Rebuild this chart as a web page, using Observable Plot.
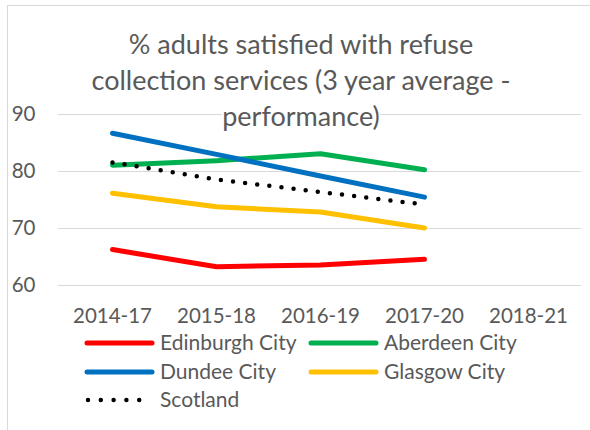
<!DOCTYPE html>
<html>
<head>
<meta charset="utf-8">
<script src="https://cdn.jsdelivr.net/npm/d3@7"></script>
<script src="https://cdn.jsdelivr.net/npm/@observablehq/plot@0.6"></script>
<style>
  html, body { margin: 0; padding: 0; background: white; }
  #wrap { position: relative; width: 590px; height: 430px; overflow: hidden; font-family: Lato, sans-serif; color: #595959; }
  #chart { position: absolute; left: 0; top: 0; }
  #title { position: absolute; left: 1px; width: 600px; top: 26px; text-align: center; font-size: 27px; line-height: 36px; }
  #title span { background: white; }
  #legend { position: absolute; left: 0; top: 0; }
  #border { position: absolute; left: 7px; top: 5px; width: 700px; height: 600px; border: 1px solid #d9d9d9; pointer-events: none; }
</style>
</head>
<body>
<div id="wrap">
  <div id="chart"></div>
  <div id="title"></div>
  <svg id="legend" width="590" height="430"></svg>
  <div id="border"></div>
</div>
<script>
const categories = ["2014-17", "2015-18", "2016-19", "2017-20", "2018-21"];
const edinburgh = [66.3, 63.3, 63.6, 64.6];
const aberdeen  = [81.1, 81.9, 83.1, 80.3];
const dundee    = [86.7, 83.0, 79.2, 75.5];
const glasgow   = [76.2, 73.8, 72.9, 70.1];
const scotland  = [81.6, 78.6, 76.4, 74.2];
const yTicks = [60, 70, 80, 90];
const titleLines = ["% adults satisfied with refuse", "collection services (3 year average -", "performance)"];

const series = [
  {name: "Edinburgh City", values: edinburgh, color: "#FF0000", dotted: false},
  {name: "Aberdeen City",  values: aberdeen,  color: "#00B050", dotted: false},
  {name: "Dundee City",    values: dundee,    color: "#0070C0", dotted: false},
  {name: "Glasgow City",   values: glasgow,   color: "#FFC000", dotted: false},
  {name: "Scotland",       values: scotland,  color: "#000000", dotted: true}
];

const rows = series.map(s => s.values.map((v, i) => ({series: s.name, cat: categories[i], value: v})));

const marks = [
  Plot.ruleY(yTicks, {stroke: "#d9d9d9", strokeWidth: 1})
];
series.forEach((s, k) => {
  if (s.dotted) {
    marks.push(Plot.line(rows[k], {x: "cat", y: "value", stroke: s.color, strokeWidth: 4.5,
      strokeLinecap: "round", strokeDasharray: "0 12.2"}));
  } else {
    marks.push(Plot.line(rows[k], {x: "cat", y: "value", stroke: s.color, strokeWidth: 5,
      strokeLinecap: "round", strokeLinejoin: "round"}));
  }
});

const chart = Plot.plot({
  width: 590, height: 430,
  marginLeft: 58, marginRight: 9, marginTop: 114, marginBottom: 145,
  x: {type: "point", domain: categories, padding: 0.5, tickSize: 0, tickPadding: 23, label: null},
  y: {domain: [60, 90], ticks: yTicks, tickSize: 0, tickPadding: 23, label: null},
  style: {fontFamily: "Lato, sans-serif", fontSize: "20.5px", color: "#595959", background: "white"},
  marks
});
document.getElementById("chart").appendChild(chart);

// title
const t = d3.select("#title");
titleLines.forEach((line, i) => {
  t.append("span").text(line);
  if (i < titleLines.length - 1) t.append("br");
});

// legend
const lg = d3.select("#legend");
const legendPos = [
  {x: 85, y: 343}, {x: 309, y: 343},
  {x: 85, y: 372}, {x: 309, y: 372},
  {x: 85, y: 400}
];
series.forEach((s, i) => {
  const p = legendPos[i];
  const g = lg.append("g");
  if (s.dotted) {
    g.append("line").attr("x1", p.x + 3).attr("x2", p.x + 67).attr("y1", p.y).attr("y2", p.y)
      .attr("stroke", s.color).attr("stroke-width", 4.5).attr("stroke-linecap", "round")
      .attr("stroke-dasharray", "0 12.8");
  } else {
    g.append("line").attr("x1", p.x + 2).attr("x2", p.x + 67).attr("y1", p.y).attr("y2", p.y)
      .attr("stroke", s.color).attr("stroke-width", 5).attr("stroke-linecap", "round");
  }
  g.append("text").attr("x", p.x + 75).attr("y", p.y).attr("dy", "0.35em")
    .attr("fill", "#595959").attr("font-size", "21px").attr("font-family", "Lato, sans-serif")
    .text(s.name);
});
</script>
</body>
</html>
